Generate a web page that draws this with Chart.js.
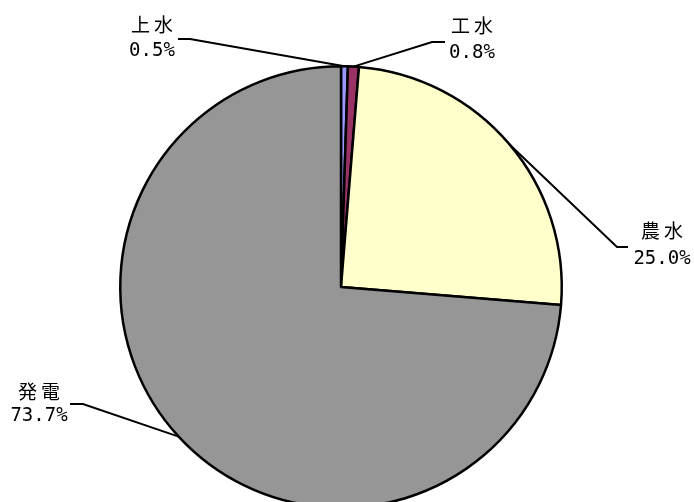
<!DOCTYPE html>
<html>
<head>
<meta charset="utf-8">
<script src="https://cdn.jsdelivr.net/npm/chart.js@4/dist/chart.umd.min.js"></script>
<style>
    html, body { margin: 0; padding: 0; background: #fff; overflow: hidden; }
    #wrap { width: 694px; height: 520px; }
</style>
</head>
<body>
<div id="wrap"><canvas id="chart_container" width="694" height="520"></canvas></div>
<script>
const categories  = ['上水', '工水', '農水', '発電']
const shares      = [0.5, 0.8, 25.0, 73.7]
const sliceColors = ['#9999ff', '#993366', '#ffffcc', '#969696']

// leader elbow, leader end and the centre of the two text lines, per label
const labelLayout = [
    { elbow: [190, 39],  end: [178, 39],  x: 152, y1: 25,  y2: 51 },
    { elbow: [432, 42],  end: [445, 42],  x: 472, y1: 26,  y2: 53 },
    { elbow: [617, 247], end: [628, 247], x: 662, y1: 231, y2: 259 },
    { elbow: [83, 404],  end: [70, 404],  x: 39,  y1: 392, y2: 416 }
]

const leaderLabels = {
    id: 'leaderLabels',
    afterDatasetsDraw(chart){
        const ctx  = chart.ctx
        const arcs = chart.getDatasetMeta(0).data

        arcs.forEach((arc, i) => {
            const { x, y, startAngle, endAngle, outerRadius } =
                arc.getProps(['x', 'y', 'startAngle', 'endAngle', 'outerRadius'], true)
            const mid = (startAngle + endAngle) / 2
            const px  = x + Math.cos(mid) * outerRadius
            const py  = y + Math.sin(mid) * outerRadius
            const lay = labelLayout[i]

            ctx.save()
            ctx.strokeStyle = '#000'
            ctx.lineWidth   = 2
            ctx.beginPath()
            ctx.moveTo(px, py)
            ctx.lineTo(lay.elbow[0], lay.elbow[1])
            ctx.lineTo(lay.end[0], lay.end[1])
            ctx.stroke()

            ctx.fillStyle    = '#000'
            ctx.textAlign    = 'center'
            ctx.textBaseline = 'middle'

            ctx.letterSpacing = '4px'
            ctx.font = '19px "Noto Sans CJK JP"'
            ctx.fillText(categories[i], lay.x + 2, lay.y1)

            // narrow, tall digits like the original
            ctx.letterSpacing = '0px'
            ctx.font = '20px "DejaVu Sans Mono"'
            ctx.translate(lay.x, lay.y2)
            ctx.scale(0.95, 1)
            ctx.fillText(shares[i].toFixed(1) + '%', 0, 0)
            ctx.restore()
        })
    }
}

const canvas = document.getElementById('chart_container')
const chart  = new Chart(canvas, {
    type: 'pie',
    data: {
        labels: categories,
        datasets: [{
            data: shares,
            backgroundColor: sliceColors,
            borderColor: '#000',
            borderWidth: 2.5,
            hoverOffset: 0
        }]
    },
    options: {
        responsive: false,
        animation: false,
        devicePixelRatio: 1,
        layout: {
            padding: { left: 119, right: 131, top: 65, bottom: 11 }
        },
        plugins: {
            legend: { display: false },
            tooltip: { enabled: false }
        }
    },
    plugins: [leaderLabels]
})
</script>
</body>
</html>
